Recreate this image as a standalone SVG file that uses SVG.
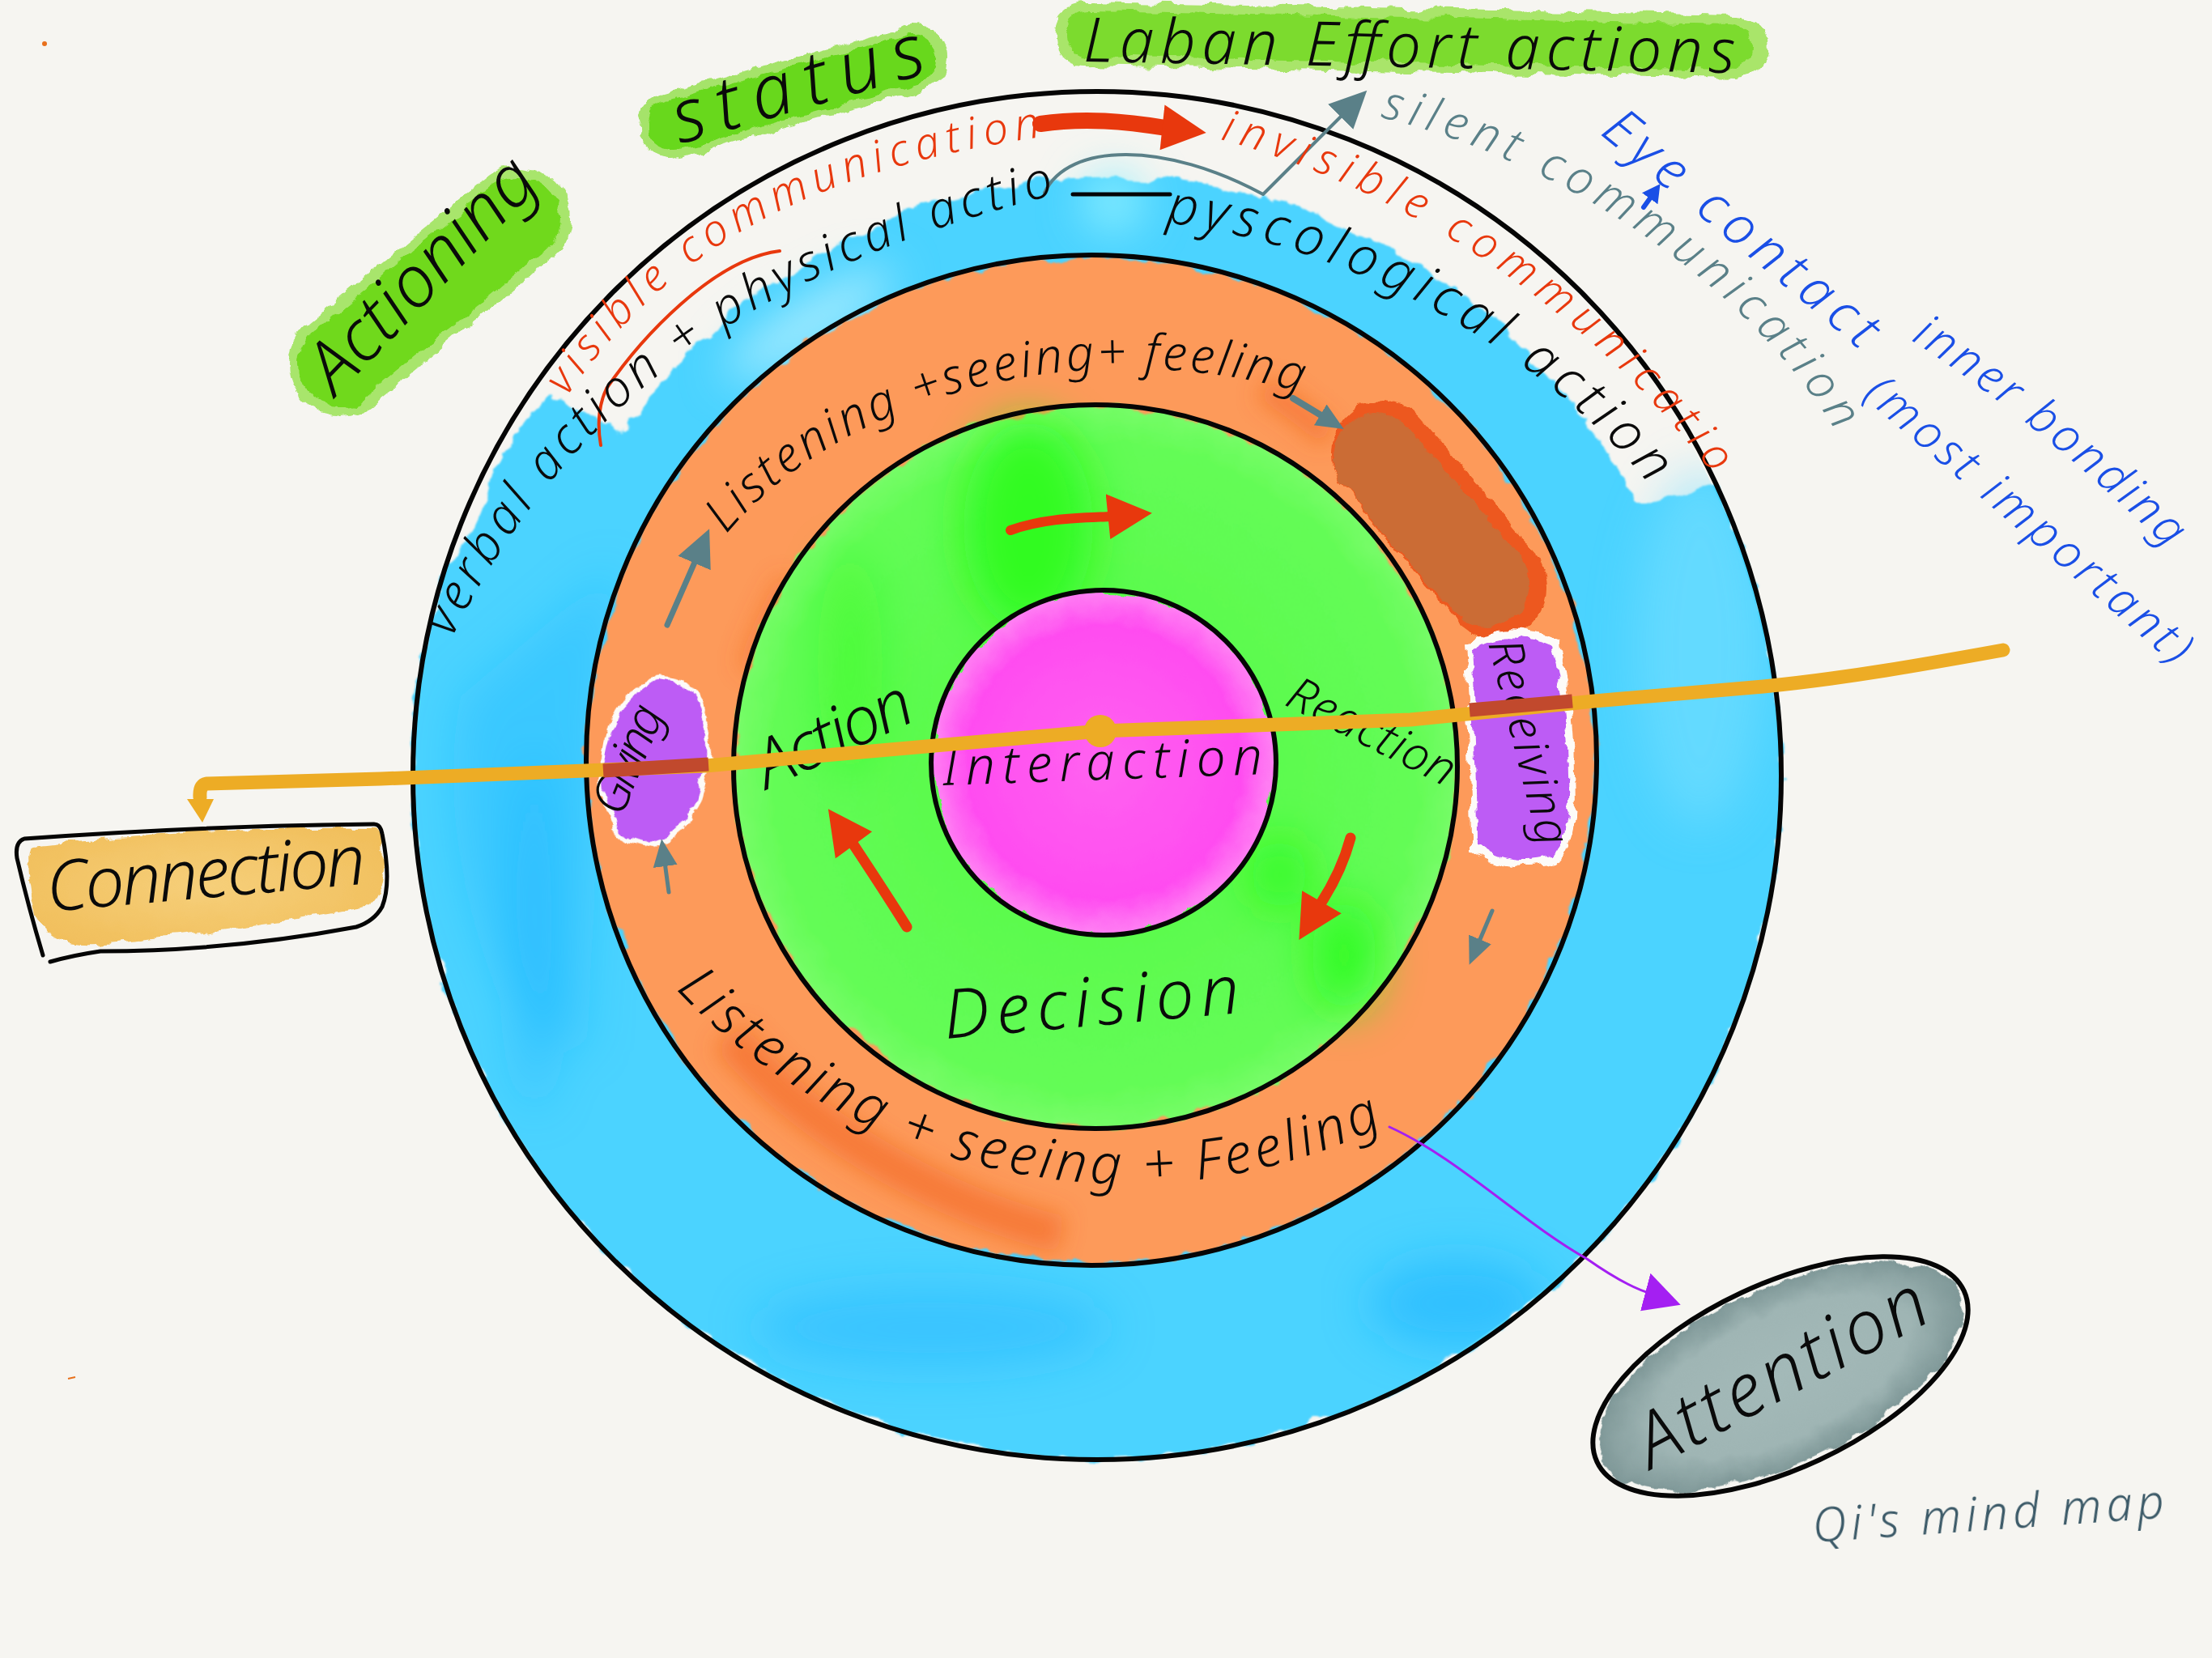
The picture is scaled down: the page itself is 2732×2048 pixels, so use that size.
<svg xmlns="http://www.w3.org/2000/svg" width="2732" height="2048" viewBox="0 0 2732 2048">
<style>
text{font-family:"Noto Sans","Liberation Sans",sans-serif;font-style:italic;font-weight:300;fill:#0a0a0a}
.ring{fill:none;stroke:#050505;stroke-width:6}
.lblue{stroke:#1fb4ff;fill:#1fb4ff;opacity:.45}
.lgreen{fill:#1ffb12;opacity:.75}
.lorange{fill:none;stroke:#f0591c;opacity:.5}
.c{fill:none;stroke-linecap:round;stroke-linejoin:round}
</style>
<defs>
<filter id="wc" filterUnits="userSpaceOnUse" x="0" y="0" width="2732" height="2048"><feTurbulence type="fractalNoise" baseFrequency="0.035" numOctaves="4" seed="4"/><feDisplacementMap in="SourceGraphic" scale="16" xChannelSelector="R" yChannelSelector="G"/></filter>
<filter id="wcb" filterUnits="userSpaceOnUse" x="0" y="0" width="2732" height="2048"><feTurbulence type="fractalNoise" baseFrequency="0.03" numOctaves="4" seed="9"/><feDisplacementMap in="SourceGraphic" scale="22" xChannelSelector="R" yChannelSelector="G"/><feGaussianBlur stdDeviation="1.2"/></filter>
<filter id="bl" x="-50%" y="-50%" width="200%" height="200%"><feGaussianBlur stdDeviation="28"/></filter>
<filter id="bls" x="-50%" y="-50%" width="200%" height="200%"><feGaussianBlur stdDeviation="14"/></filter>
<clipPath id="cBlue"><circle cx="1355" cy="958" r="840"/></clipPath>
<clipPath id="cOrange"><circle cx="1348" cy="939" r="620"/></clipPath>
<radialGradient id="gGreen" cx=".5" cy=".5" r=".5"><stop offset="0" stop-color="#52fb45"/><stop offset=".9" stop-color="#64fc56"/><stop offset="1" stop-color="#76fc68"/></radialGradient>
<radialGradient id="gPink" cx=".5" cy=".5" r=".5"><stop offset="0" stop-color="#ff62f0"/><stop offset=".8" stop-color="#ff4cf0"/><stop offset="1" stop-color="#ff80f3"/></radialGradient>
<radialGradient id="gAtt" cx=".5" cy=".5" r=".5"><stop offset="0" stop-color="#a3b9b8"/><stop offset=".7" stop-color="#9fb5b4"/><stop offset="1" stop-color="#7f9898"/></radialGradient>
<radialGradient id="gCon" cx=".5" cy=".5" r=".6"><stop offset="0" stop-color="#f6cf7a"/><stop offset="1" stop-color="#f1bf5c"/></radialGradient>
<marker id="mTeal" markerUnits="userSpaceOnUse" markerWidth="70" markerHeight="70" refX="6" refY="30" orient="auto"><path d="M0 8L46 30L0 52Z" fill="#5a8088"/></marker>
<marker id="mTealS" markerUnits="userSpaceOnUse" markerWidth="50" markerHeight="50" refX="5" refY="20" orient="auto"><path d="M0 5L34 20L0 35Z" fill="#5a8088"/></marker>
<marker id="mRed" markerUnits="userSpaceOnUse" markerWidth="80" markerHeight="80" refX="6" refY="40" orient="auto"><path d="M0 12L56 38L3 68Z" fill="#e8380d"/></marker>
<marker id="mPurple" markerUnits="userSpaceOnUse" markerWidth="60" markerHeight="60" refX="8" refY="26" orient="auto"><path d="M0 2L46 30L0 50Z" fill="#a41ff2"/></marker>
<marker id="mBlue" markerUnits="userSpaceOnUse" markerWidth="30" markerHeight="30" refX="4" refY="12" orient="auto"><path d="M0 0L22 12L0 24Z" fill="#1a4fe6"/></marker>
<path id="pVisible" d="M700 490C830 300 1010 210 1280 170"/>
<path id="pInvisible" d="M1507 172C1720 230 1960 370 2130 605"/>
<path id="pSilent" d="M1705 145C1900 190 2150 330 2275 545"/>
<path id="pVerbal" d="M558 788C680 540 880 340 1325 235"/>
<path id="pPsy" d="M1440 275C1650 300 1900 420 2050 615"/>
<path id="pUp" d="M897 660C1020 510 1300 400 1610 485"/>
<path id="pLow" d="M835 1222C1000 1400 1350 1560 1710 1390"/>
<path id="pEye" d="M1975 165C2090 260 2190 340 2300 435"/>
<path id="pInner" d="M2360 420C2470 490 2590 590 2690 690"/>
<path id="pMost" d="M2300 490C2430 600 2570 720 2700 835"/>
</defs>
<rect width="2732" height="2048" fill="#f6f5f1"/>
<g id="marks"><circle cx="55" cy="54" r="3" fill="#e8701c"/><path d="M84 1703l9-2" stroke="#e8701c" stroke-width="2"/></g>
<g id="ring-physical">
<path d="M680 490Q620 540 590 640L550 700A845 845 0 1 0 2160 700L2118 598L2020 625A725 725 0 0 0 770 535Z" fill="#4bd3ff" filter="url(#wcb)"/>
<g filter="url(#bl)" clip-path="url(#cBlue)"><path class="lblue" d="M570 860C540 1000 580 1250 720 1300L740 950L760 700Z" style="opacity:.35"/><ellipse class="lblue" cx="1800" cy="1610" rx="110" ry="55" style="opacity:.6"/><ellipse class="lblue" cx="1150" cy="1640" rx="220" ry="50"/><ellipse cx="2100" cy="800" rx="80" ry="220" fill="#7ce2ff" opacity=".5"/><ellipse cx="1375" cy="250" rx="35" ry="35" fill="#8ff0ff"/><ellipse cx="1000" cy="400" rx="120" ry="28" fill="#a8ecff" transform="rotate(-32 1000 400)"/><ellipse cx="660" cy="1150" rx="26" ry="220" fill="#1fb4ff" opacity=".5"/></g>
<circle class="ring" cx="1355" cy="958" r="845"/>
</g>
<g id="ring-senses">
<circle cx="1348" cy="939" r="622" fill="#fd9a5a" filter="url(#wcb)"/>
<g filter="url(#bls)" clip-path="url(#cOrange)"><path class="lorange" d="M900 1280C1000 1400 1170 1490 1310 1525" stroke-width="46"/><path class="lorange" d="M1560 480Q1610 510 1640 540" stroke-width="28"/><path class="lorange" d="M980 720Q950 770 930 830" stroke-width="40" style="opacity:.35"/></g>
<circle class="ring" cx="1348" cy="939" r="624"/>
</g>
<g id="ring-decision">
<circle cx="1353" cy="947" r="445" fill="url(#gGreen)" filter="url(#wcb)"/>
<g filter="url(#bl)"><ellipse class="lgreen" cx="1270" cy="650" rx="80" ry="130"/><ellipse class="lgreen" cx="1660" cy="1180" rx="40" ry="70"/><ellipse class="lgreen" cx="1580" cy="1080" rx="35" ry="45"/><ellipse class="lgreen" cx="1050" cy="820" rx="40" ry="140" style="opacity:.3"/></g>
<circle class="ring" cx="1353" cy="947" r="447"/>
</g>
<g id="node-interaction">
<circle cx="1363" cy="942" r="211" fill="url(#gPink)" filter="url(#wc)"/>
<circle class="ring" cx="1363" cy="942" r="213" stroke-width="5"/>
<text x="1165" y="970" font-size="64" textLength="395" lengthAdjust="spacing" transform="rotate(-2 1165 970)">Interaction</text>
</g>
<g id="node-decision"><text x="1168" y="1283" font-size="84" textLength="366" lengthAdjust="spacing" transform="rotate(-5 1168 1283)">Decision</text></g>
<g id="node-action"><text x="948" y="975" font-size="82" textLength="205" lengthAdjust="spacing" transform="rotate(-25 948 975)">Action</text></g>
<g id="node-reaction"><text x="1585" y="870" font-size="58" textLength="225" lengthAdjust="spacing" transform="rotate(27 1585 870)">Reaction</text></g>
<g id="blob-brown">
<path class="c" d="M1708 560L1848 725" stroke="#ea4d12" stroke-width="128" filter="url(#wc)" opacity=".85"/>
<path class="c" d="M1700 565L1835 720" stroke="#cb6c35" stroke-width="108" filter="url(#wc)"/>
</g>
<g id="node-giving">
<ellipse cx="810" cy="941" rx="68" ry="106" fill="#fdfbf8" transform="rotate(10 810 941)" filter="url(#wc)"/>
<ellipse cx="810" cy="941" rx="62" ry="100" fill="#bd5cf5" transform="rotate(10 810 941)" filter="url(#wc)"/>
<text x="768" y="1010" font-size="60" textLength="140" lengthAdjust="spacing" transform="rotate(-68 768 1010)">Giving</text>
</g>
<g id="node-receiving">
<path d="M1808 795Q1860 760 1925 790Q1945 860 1945 960Q1950 1040 1925 1065Q1860 1080 1818 1050Q1818 960 1808 795Z" fill="#fdfbf8" filter="url(#wc)"/>
<path d="M1816 803Q1860 772 1917 798Q1937 870 1937 960Q1940 1030 1917 1057Q1860 1072 1825 1042Q1825 950 1816 803Z" fill="#bd5cf5" filter="url(#wc)"/>
<text x="1838" y="795" font-size="58" textLength="260" lengthAdjust="spacing" transform="rotate(76 1838 795)">Receiving</text>
</g>
<g id="connectors">
<path class="c" d="M1248 655C1290 640 1330 640 1373 638" stroke="#e8380d" stroke-width="12" marker-end="url(#mRed)"/>
<path class="c" d="M1120 1145C1095 1105 1075 1075 1052 1040" stroke="#e8380d" stroke-width="13" marker-end="url(#mRed)"/>
<path class="c" d="M1668 1035C1660 1065 1645 1095 1630 1118" stroke="#e8380d" stroke-width="13" marker-end="url(#mRed)"/>
<path class="c" d="M1285 153C1340 145 1390 150 1440 158" stroke="#e8380d" stroke-width="20" marker-end="url(#mRed)"/>
<path class="c" d="M963 310C880 320 790 420 749 480Q735 510 742 550" stroke="#e8380d" stroke-width="4"/>
<path class="c" d="M824 772L860 690" stroke="#5a8088" stroke-width="7" marker-end="url(#mTeal)"/>
<path class="c" d="M826 1102L821 1065" stroke="#5a8088" stroke-width="5" marker-end="url(#mTealS)"/>
<path class="c" d="M1843 1125L1826 1165" stroke="#5a8088" stroke-width="5" marker-end="url(#mTealS)"/>
<path class="c" d="M1597 492L1635 515" stroke="#5a8088" stroke-width="8" marker-end="url(#mTealS)"/>
<path class="c" d="M1290 238C1320 175 1440 175 1560 240L1660 140" stroke="#5a8088" stroke-width="4" marker-end="url(#mTeal)"/>
<path class="c" d="M2030 256L2040 242" stroke="#1a4fe6" stroke-width="6" marker-end="url(#mBlue)"/>
<path class="c" d="M1716 1392C1800 1430 1880 1510 1960 1555Q2010 1590 2040 1598" stroke="#a41ff2" stroke-width="3" marker-end="url(#mPurple)"/>
<path class="c" d="M2474 803C2380 820 2280 838 2178 848L1969 866L1742 889L1359 903L871 946L470 962L255 968Q246 970 247 985" stroke="#edac25" stroke-width="17"/>
<path d="M1815 877L1942 866" stroke="#c1492d" stroke-width="17" fill="none"/>
<path d="M745 952L875 944" stroke="#c1492d" stroke-width="17" fill="none"/>
<circle cx="1359" cy="903" r="20" fill="#edac25"/>
<path d="M231 987L264 987L250 1016Z" fill="#edac25"/>
</g>
<g id="node-connection">
<path d="M38 1045Q30 1060 45 1130Q60 1170 120 1166Q300 1150 455 1120Q478 1085 474 1040L462 1022Q250 1020 38 1045Z" fill="url(#gCon)" filter="url(#wc)"/>
<path class="c" d="M53 1180Q35 1120 21 1060Q18 1040 30 1036Q250 1020 462 1018Q470 1018 472 1030Q484 1090 472 1120Q462 1138 440 1145Q280 1175 124 1175Q90 1180 62 1188" stroke="#050505" stroke-width="5"/>
<text x="60" y="1126" font-size="86" textLength="395" lengthAdjust="spacing" transform="rotate(-5 60 1126)">Connection</text>
</g>
<g id="node-attention">
<ellipse cx="2199" cy="1700" rx="244" ry="108" fill="url(#gAtt)" transform="rotate(-25 2199 1700)" filter="url(#wc)"/>
<ellipse class="ring" cx="2199" cy="1700" rx="250" ry="114" transform="rotate(-25 2199 1700)" stroke-width="5"/>
<text x="2040" y="1815" font-size="92" textLength="395" lengthAdjust="spacing" transform="rotate(-28 2040 1815)">Attention</text>
</g>
<g id="labels-rings">
<text font-size="62"><textPath href="#pVerbal" textLength="1000" lengthAdjust="spacing">verbal action + physical action</textPath></text>
<path class="c" d="M1325 240L1445 240" stroke="#050505" stroke-width="5"/>
<text font-size="66"><textPath href="#pPsy" textLength="695" lengthAdjust="spacing">pyscological action</textPath></text>
<text font-size="60"><textPath href="#pUp" textLength="770" lengthAdjust="spacing">Listening +seeing+ feeling</textPath></text>
<text font-size="68"><textPath href="#pLow" textLength="950" lengthAdjust="spacing">Listening + seeing + Feeling</textPath></text>
<text font-size="54" style="fill:#e8380d"><textPath href="#pVisible" textLength="690" lengthAdjust="spacing">visible communication</textPath></text>
<text font-size="54" style="fill:#e8380d"><textPath href="#pInvisible" textLength="790" lengthAdjust="spacing">invisible communication</textPath></text>
<text font-size="58" style="fill:#5a8088"><textPath href="#pSilent" textLength="700" lengthAdjust="spacing">silent communication</textPath></text>
<text font-size="66" style="fill:#1a4fe6"><textPath href="#pEye" textLength="420" lengthAdjust="spacing">Eye contact</textPath></text>
<text font-size="58" style="fill:#1a4fe6"><textPath href="#pInner" textLength="410" lengthAdjust="spacing">inner bonding</textPath></text>
<text font-size="58" style="fill:#1a4fe6"><textPath href="#pMost" textLength="510" lengthAdjust="spacing">(most important)</textPath></text>
</g>
<g id="node-actioning">
<path class="c" d="M420 450L640 270" stroke="#a8e56c" stroke-width="128" filter="url(#wc)"/>
<path class="c" d="M420 450L640 270" stroke="#6fd91f" stroke-width="104" filter="url(#wc)"/>
<text x="415" y="490" font-size="88" textLength="365" lengthAdjust="spacing" transform="rotate(-46 415 490)">Actioning</text>
</g>
<g id="node-status">
<path class="c" d="M830 155L1130 72" stroke="#a5e36a" stroke-width="82" filter="url(#wc)"/>
<path class="c" d="M830 155L1125 74" stroke="#67d81a" stroke-width="62" filter="url(#wc)"/>
<text x="840" y="178" font-size="92" textLength="320" lengthAdjust="spacing" transform="rotate(-16 840 178)">status</text>
</g>
<g id="node-laban">
<path class="c" d="M1340 42L2145 58" stroke="#a9e56a" stroke-width="78" filter="url(#wc)"/>
<path class="c" d="M1345 42L2135 58" stroke="#7bdb2e" stroke-width="56" filter="url(#wc)"/>
<text x="1338" y="76" font-size="76" textLength="805" lengthAdjust="spacing" transform="rotate(1 1338 76)">Laban  Effort actions</text>
</g>
<g id="credit"><text x="2240" y="1905" font-size="58" textLength="435" lengthAdjust="spacing" transform="rotate(-4 2240 1905)" style="fill:#3c5a68">Qi's mind map</text></g>
</svg>
